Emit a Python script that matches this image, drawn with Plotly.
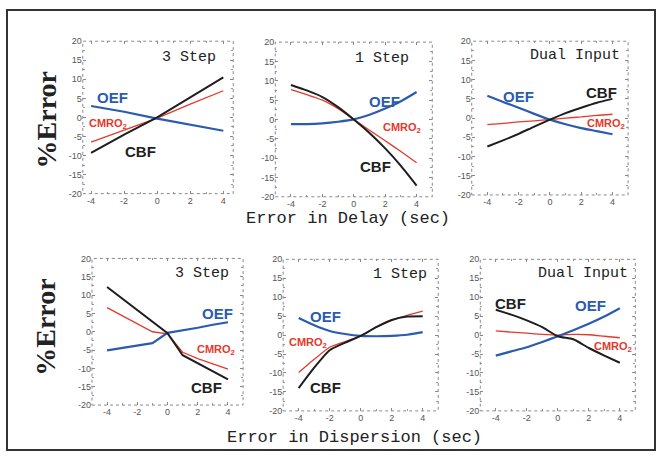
import plotly.graph_objects as go

# ---------------- data ----------------
x5 = [-4, -2, 0, 2, 4]
x9 = [-4, -3, -2, -1, 0, 1, 2, 3, 4]

# Error in Delay - 3 Step
d3_cbf = [-9.3, -4.5, 0.0, 5.2, 10.5]
d3_oef = [3.0, 1.5, -0.3, -1.9, -3.5]
d3_cmro2 = [-6.5, -3.3, -0.2, 3.5, 7.0]

# Error in Delay - 1 Step
d1_cbf = [8.9, 7.5, 5.8, 3.2, 0.0, -3.5, -7.5, -12.0, -17.1]
d1_oef = [-1.2, -1.2, -1.0, -0.6, 0.0, 1.2, 2.8, 4.7, 7.1]
d1_cmro2 = [7.7, 6.4, 5.0, 2.8, 0.0, -2.8, -5.5, -8.3, -11.2]

# Error in Delay - Dual Input
dd_cbf = [-7.4, -5.8, -4.1, -2.2, -0.4, 1.3, 2.7, 4.0, 5.0]
dd_oef = [5.8, 4.2, 2.7, 1.1, -0.4, -1.6, -2.6, -3.4, -4.2]
dd_cmro2 = [-1.7, -1.4, -1.0, -0.7, -0.4, 0.0, 0.3, 0.7, 1.0]

# Error in Dispersion - 3 Step
s3_cbf = [12.2, 9.1, 6.0, 2.9, -0.4, -6.4, -8.6, -10.8, -13.0]
s3_oef = [-5.1, -4.4, -3.8, -3.1, -0.3, 0.3, 1.1, 1.9, 2.6]
s3_cmro2 = [6.6, 4.4, 2.2, 0.0, -0.6, -5.6, -7.3, -8.8, -10.2]

# Error in Dispersion - 1 Step
s1_cbf = [-14.0, -8.6, -4.0, -2.0, -0.2, 2.1, 4.0, 4.9, 5.0]
s1_oef = [4.5, 2.6, 1.1, 0.3, -0.2, -0.3, -0.2, 0.1, 0.8]
s1_cmro2 = [-9.9, -6.4, -3.2, -1.7, -0.2, 2.1, 3.9, 5.2, 6.3]

# Error in Dispersion - Dual Input
sd_cbf = [6.7, 5.4, 3.9, 2.1, -0.3, -1.1, -3.4, -5.4, -7.3]
sd_oef = [-5.4, -4.3, -3.2, -1.8, -0.3, 1.3, 3.0, 4.9, 7.1]
sd_cmro2 = [1.1, 0.8, 0.5, 0.2, 0.0, 0.2, 0.1, -0.3, -0.7]

panel_titles = ["3 Step", "1 Step", "Dual Input", "3 Step", "1 Step", "Dual Input"]
x_titles = ["Error in Delay (sec)", "Error in Dispersion (sec)"]
y_title = "%Error"
y_ticks = [20, 15, 10, 5, 0, -5, -10, -15, -20]
y_ticklabels = ["20", "15", "10", "5", "0", "-5", "-10", "-15", "-20"]
x_ticks = [-4, -2, 0, 2, 4]
x_ticklabels = ["-4", "-2", "0", "2", "4"]

# ---------------- style ----------------
BLUE = "#2b5bb0"
RED = "#e5392c"
BLACK = "#1e1e1e"
LABEL_FONT = "Liberation Sans, Arial, sans-serif"
TICK_FONT = "Liberation Sans, Arial, sans-serif"
MONO = "Liberation Mono, DejaVu Sans Mono, monospace"

panels = [
    dict(x=x5, cbf=d3_cbf, oef=d3_oef, cmro=d3_cmro2, smooth=False,
         xd=[0.126, 0.355], yd=[0.578, 0.919], xr=[-4.5, 4.6],
         lab=dict(oef=(-2.7, 5.2), cmro=(-2.95, -1.8), cbf=(-1.0, -9.0)),
         tpos=(3.7, 15.6)),
    dict(x=x9, cbf=d1_cbf, oef=d1_oef, cmro=d1_cmro2, smooth=True,
         xd=[0.419, 0.658], yd=[0.571, 0.917], xr=[-5, 5],
         lab=dict(oef=(1.96, 4.7), cmro=(3.1, -2.3), cbf=(1.37, -12.2)),
         tpos=(3.64, 15.8)),
    dict(x=x9, cbf=dd_cbf, oef=dd_oef, cmro=dd_cmro2, smooth=True,
         xd=[0.718, 0.956], yd=[0.575, 0.919], xr=[-5, 5],
         lab=dict(oef=(-2.0, 5.7), cmro=(3.6, -1.5), cbf=(3.3, 6.7)),
         tpos=(4.6, 16.3)),
    dict(x=x9, cbf=s3_cbf, oef=s3_oef, cmro=s3_cmro2, smooth=False,
         xd=[0.140, 0.370], yd=[0.105, 0.433], xr=[-5, 5],
         lab=dict(oef=(3.3, 5.0), cmro=(3.2, -4.9), cbf=(2.6, -15.3)),
         tpos=(4.23, 16.0)),
    dict(x=x9, cbf=s1_cbf, oef=s1_oef, cmro=s1_cmro2, smooth=True,
         xd=[0.431, 0.667], yd=[0.092, 0.431], xr=[-5, 5],
         lab=dict(oef=(-2.24, 4.9), cmro=(-3.4, -2.1), cbf=(-2.26, -13.7)),
         tpos=(4.4, 16.0)),
    dict(x=x9, cbf=sd_cbf, oef=sd_oef, cmro=sd_cmro2, smooth=True,
         xd=[0.731, 0.967], yd=[0.092, 0.431], xr=[-5, 5],
         lab=dict(oef=(2.08, 7.7), cmro=(3.54, -3.2), cbf=(-3.07, 8.3)),
         tpos=(4.63, 16.3)),
]

fig = go.Figure()
annotations = []
shapes = []
layout = {}

for i, p in enumerate(panels):
    n = "" if i == 0 else str(i + 1)
    xa, ya = "x" + n, "y" + n
    shp = dict(shape="spline", smoothing=0.6) if p["smooth"] else dict(shape="linear")
    fig.add_trace(go.Scatter(x=p["x"], y=p["cmro"], mode="lines",
                             line=dict(color=RED, width=1.3, **shp), xaxis=xa, yaxis=ya,
                             showlegend=False, hoverinfo="skip"))
    fig.add_trace(go.Scatter(x=p["x"], y=p["oef"], mode="lines",
                             line=dict(color=BLUE, width=2.2, **shp),
                             xaxis=xa, yaxis=ya, showlegend=False, hoverinfo="skip"))
    fig.add_trace(go.Scatter(x=p["x"], y=p["cbf"], mode="lines",
                             line=dict(color=BLACK, width=2.0, **shp), xaxis=xa, yaxis=ya,
                             showlegend=False, hoverinfo="skip"))
    axis_common = dict(showgrid=False, zeroline=False, ticks="inside", ticklen=3,
                       tickcolor="#888", tickwidth=1, mirror="ticks", showline=False,
                       tickfont=dict(family=TICK_FONT, size=9, color="#555"),
                       fixedrange=True)
    layout["xaxis" + n] = dict(axis_common, domain=p["xd"], anchor=ya, range=p["xr"],
                               tickvals=x_ticks, ticktext=x_ticklabels,
                               minor=dict(dtick=1, ticks="inside", ticklen=2, tickcolor="#999"))
    layout["yaxis" + n] = dict(axis_common, domain=p["yd"], anchor=xa, range=[-20, 20],
                               tickvals=y_ticks, ticktext=y_ticklabels,
                               minor=dict(dtick=2.5, ticks="inside", ticklen=2, tickcolor="#999"))
    shapes.append(dict(type="rect", xref=xa + " domain", yref=ya + " domain",
                       x0=0, x1=1, y0=0, y1=1,
                       line=dict(color="#8a8a8a", width=1, dash="dot")))
    annotations.append(dict(x=p["tpos"][0], y=p["tpos"][1], xref=xa, yref=ya,
                            text=panel_titles[i], showarrow=False, xanchor="right",
                            yanchor="middle",
                            font=dict(family=MONO, size=15, color="#222")))
    annotations.append(dict(x=p["lab"]["oef"][0], y=p["lab"]["oef"][1], xref=xa, yref=ya,
                            text="<b>OEF</b>", showarrow=False,
                            xanchor="center", yanchor="middle",
                            font=dict(family=LABEL_FONT, size=15, color=BLUE)))
    annotations.append(dict(x=p["lab"]["cbf"][0], y=p["lab"]["cbf"][1], xref=xa, yref=ya,
                            text="<b>CBF</b>", showarrow=False,
                            xanchor="center", yanchor="middle",
                            font=dict(family=LABEL_FONT, size=15, color=BLACK)))
    annotations.append(dict(x=p["lab"]["cmro"][0], y=p["lab"]["cmro"][1], xref=xa, yref=ya,
                            text="<b>CMRO<sub>2</sub></b>", showarrow=False,
                            xanchor="center", yanchor="middle",
                            font=dict(family=LABEL_FONT, size=11, color=RED)))

# y-axis titles
for yc in [1 - 118 / 457, 1 - 330 / 457]:
    annotations.append(dict(x=46 / 657, y=yc, xref="paper", yref="paper",
                            text="<b>" + y_title + "</b>",
                            textangle=-90, showarrow=False,
                            xanchor="center", yanchor="middle",
                            font=dict(family="Liberation Serif, Times New Roman, serif",
                                      size=28, color="#222")))
# x-axis titles
annotations.append(dict(x=348 / 657, y=1 - 218 / 457, xref="paper", yref="paper",
                        text=x_titles[0], showarrow=False,
                        xanchor="center", yanchor="middle",
                        font=dict(family=MONO, size=17, color="#222")))
annotations.append(dict(x=354 / 657, y=1 - 442 / 457, xref="paper", yref="paper",
                        text=x_titles[1], showarrow=False,
                        xanchor="center", yanchor="middle",
                        font=dict(family=MONO, size=17, color="#222")))

# outer frame
shapes.append(dict(type="rect", xref="paper", yref="paper",
                   x0=7 / 657, x1=655 / 657, y0=1 - 455 / 457, y1=1 - 5 / 457,
                   line=dict(color="#333", width=2)))

fig.update_layout(width=657, height=457, margin=dict(l=0, r=0, t=0, b=0),
                  paper_bgcolor="white", plot_bgcolor="white",
                  annotations=annotations, shapes=shapes, **layout)

fig.write_html("out.html", config={"displayModeBar": False})
